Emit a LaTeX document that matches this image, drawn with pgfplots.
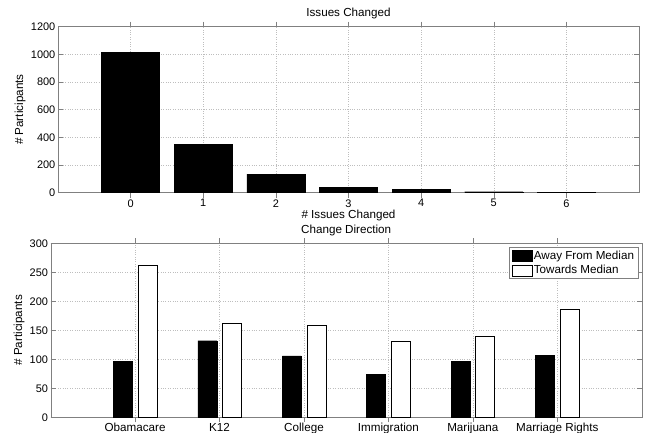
\documentclass[border=0pt]{standalone}
\usepackage{pgfplots}
\pgfplotsset{compat=1.18}
\usepackage{fontspec}
\setmainfont{Liberation Sans}
\definecolor{axgray}{RGB}{128,128,128}
\definecolor{gridgray}{RGB}{190,190,190}
\pgfplotsset{
  mystyle/.style={
    scale only axis,
    anchor=south west,
    axis line style={axgray},
    every tick/.style={axgray},
    major tick length=5bp,
    tick align=inside,
    grid=major,
    grid style={dotted, gridgray},
    /pgf/number format/assume math mode=true,
    /pgf/number format/1000 sep={},
    tick label style={font=\fontsize{11}{13}\selectfont, text=black},
    label style={font=\fontsize{11.7}{14}\selectfont},
    every axis title/.style={font=\fontsize{11.7}{14}\selectfont, at={(0.5,1)}, anchor=base, inner sep=0pt, yshift=10bp},
    xticklabel style={anchor=north, inner sep=0pt, yshift=-1.5bp},
    yticklabel style={anchor=east, inner sep=0pt, xshift=-2.5bp},
    xtick pos=both, ytick pos=both,
  }
}
\begin{document}
\begin{tikzpicture}[x=1bp,y=1bp]
\useasboundingbox (0,0) rectangle (651,433);
\begin{axis}[mystyle,
  at={(58bp,240.3bp)}, width=581bp, height=166bp,
  xmin=-1, xmax=7, ymin=0, ymax=1200,
  xtick={0,1,2,3,4,5,6}, ytick={0,200,400,600,800,1000,1200},
  title={Issues Changed},
  xlabel={\# Issues Changed},
  xlabel style={at={(axis description cs:0.5,0)}, anchor=base, inner sep=0pt, yshift=-25.8bp},
  ylabel={\# Participants},
  ylabel style={at={(axis description cs:-0.0654,0.5)}, anchor=center, inner sep=0pt},
  ybar, bar width=0.8,
]
\addplot[fill=black, draw=black, bar shift=0] coordinates {(0,1012) (1,347) (2,135) (3,39) (4,25) (5,7) (6,3)};
\end{axis}
\begin{axis}[mystyle,
  at={(50.7bp,15.7bp)}, width=591bp, height=174bp,
  xmin=0, xmax=7, ymin=0, ymax=300,
  xtick={1,2,3,4,5,6},
  xticklabels={Obamacare,K12,College,Immigration,Marijuana,Marriage Rights},
  xticklabel style={font=\fontsize{11.7}{14}\selectfont, yshift=0.5bp},
  ytick={0,50,100,150,200,250,300},
  title={Change Direction},
  ylabel={\# Participants},
  ylabel style={at={(axis description cs:-0.0536,0.5)}, anchor=center, inner sep=0pt},
  ybar, bar width=0.225,
  legend style={at={(axis description cs:1,1)}, anchor=north east, xshift=-3.5bp, yshift=-4bp,
    draw=axgray, font=\fontsize{11.7}{14}\selectfont, inner xsep=3bp, inner ysep=1.2bp,
    row sep=0bp, cells={anchor=west},
    nodes={inner xsep=1bp, inner ysep=2.2bp}},
  legend image code/.code={\draw[#1] (0bp,-5.5bp) rectangle (20bp,5.5bp);},
]
\addplot[fill=black, draw=black, bar shift=-0.145] coordinates {(1,96) (2,132) (3,106) (4,74) (5,96) (6,107)};
\addplot[fill=white, draw=black, bar shift=0.145] coordinates {(1,263) (2,163) (3,159) (4,131) (5,140) (6,186)};
\legend{Away From Median, Towards Median}
\end{axis}
\end{tikzpicture}
\end{document}
